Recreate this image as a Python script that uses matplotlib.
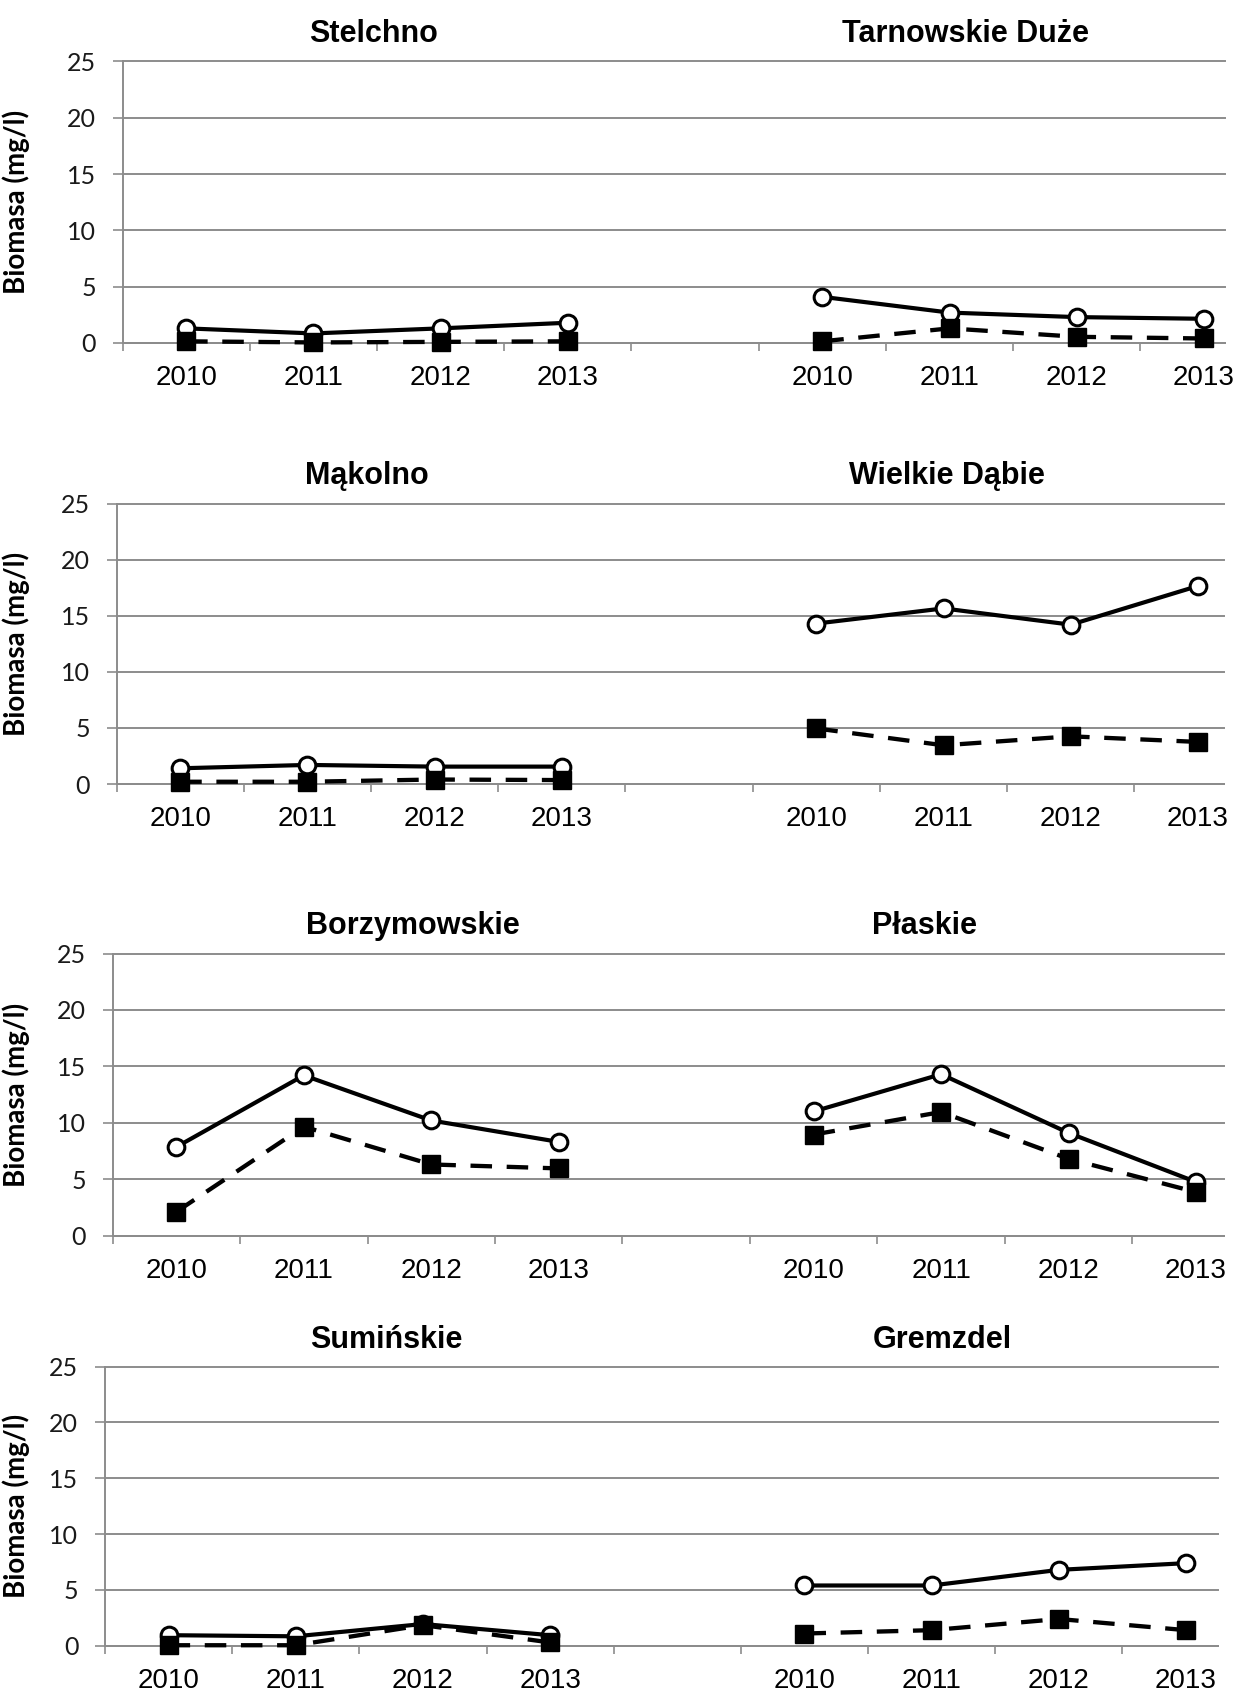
import matplotlib
matplotlib.use("Agg")
import matplotlib.pyplot as plt
from matplotlib.ticker import FixedLocator

# --- data ------------------------------------------------------------------
years = ["2010", "2011", "2012", "2013"]

lakes_left = ["Stelchno", "Mąkolno", "Borzymowskie", "Sumińskie"]
lakes_right = ["Tarnowskie Duże", "Wielkie Dąbie", "Płaskie", "Gremzdel"]

# open circles, solid line
open_left = [
    [1.3, 0.85, 1.3, 1.8],
    [1.4, 1.7, 1.55, 1.55],
    [7.85, 14.2, 10.2, 8.3],
    [0.95, 0.85, 1.95, 0.95],
]
open_right = [
    [4.1, 2.7, 2.3, 2.15],
    [14.3, 15.65, 14.2, 17.65],
    [11.0, 14.3, 9.1, 4.75],
    [5.4, 5.4, 6.8, 7.4],
]
# filled squares, dashed line
filled_left = [
    [0.15, 0.05, 0.1, 0.15],
    [0.2, 0.2, 0.4, 0.35],
    [2.1, 9.65, 6.3, 5.95],
    [0.05, 0.05, 1.85, 0.3],
]
filled_right = [
    [0.15, 1.3, 0.55, 0.4],
    [4.95, 3.45, 4.25, 3.75],
    [8.95, 10.95, 6.8, 3.85],
    [1.1, 1.4, 2.4, 1.4],
]

y_ticks = [0, 5, 10, 15, 20, 25]

# --- layout (pixels of the 1233x1691 reference) -----------------------------
W, H = 1233, 1691
# per row: y-axis x, right end, first point x, spacing, y of 25, y of 0
rows = [
    (122.5, 1225, 186, 127.25, 61.5, 343.0),
    (116.6, 1224, 180, 127.25, 503.5, 784.0),
    (112.6, 1224, 176, 127.5, 953.6, 1235.5),
    (105.0, 1218, 168, 127.25, 1366.6, 1645.8),
]
title_left = [(374, 42), (367, 484), (413, 934), (386, 1348)]
title_right = [(966, 42), (947, 484), (925, 934), (942, 1348)]

grid_c = "#8c8c8c"
px = 72.0 / 100.0  # points per pixel

fig = plt.figure(figsize=(W / 100, H / 100), dpi=100)

for r in range(4):
    xa, xr, x0, dx, y25, y0 = rows[r]
    ax = fig.add_axes([xa / W, 1 - y0 / H, (xr - xa) / W, (y0 - y25) / H])
    ax.set_xlim(-0.5, (xr - x0) / dx)
    ax.set_ylim(0, 25)

    pos_left = [0, 1, 2, 3]
    pos_right = [5, 6, 7, 8]

    for pos, o, f in [(pos_left, open_left[r], filled_left[r]),
                      (pos_right, open_right[r], filled_right[r])]:
        ax.plot(pos, o, "-", color="black", lw=3.0, marker="o", ms=12,
                mfc="white", mec="black", mew=2.2, clip_on=False, zorder=3)
        ax.plot(pos, f, color="black", lw=3.1, ls=(0, (5.0, 3.4)), marker="s",
                ms=13.5, mfc="black", mec="black", clip_on=False, zorder=4)

    # y axis: gridlines + ticks on the left only
    ax.set_yticks(y_ticks)
    ax.yaxis.grid(True, color=grid_c, lw=1.4)
    for gl in ax.get_ygridlines():
        gl.set_clip_on(False)
    ax.tick_params(axis="y", direction="out", length=10 * px, width=1.2,
                   color=grid_c, pad=12, labelsize=18, labelcolor="#1a1a1a")
    for lab in ax.get_yticklabels():
        lab.set_family("Lato")
    ax.set_ylabel("Biomasa (mg/l)", fontsize=20, fontweight="bold",
                  family="Lato")
    ax.yaxis.set_label_coords((30 - xa) / (xr - xa), 0.5)

    # category axis: labels at points, ticks between categories
    ax.set_xticks(pos_left + pos_right)
    ax.set_xticklabels(years + years, fontsize=20, family="Liberation Sans")
    ax.xaxis.set_minor_locator(FixedLocator([k - 0.5 for k in range(10)]))
    ax.tick_params(axis="x", which="major", length=0, pad=16)
    ax.tick_params(axis="x", which="minor", direction="out", length=8 * px,
                   width=1.2, color=grid_c)

    for s in ["top", "right"]:
        ax.spines[s].set_visible(False)
    for s in ["left", "bottom"]:
        ax.spines[s].set_color(grid_c)
        ax.spines[s].set_linewidth(1.4)
    ax.set_axisbelow(True)

    for (tx, ty), name in [(title_left[r], lakes_left[r]),
                           (title_right[r], lakes_right[r])]:
        fig.text(tx / W, 1 - ty / H, name, ha="center", va="baseline",
                 fontsize=22, fontweight="bold", family="Liberation Sans")

fig.savefig("out.png", dpi=100, facecolor="white")
